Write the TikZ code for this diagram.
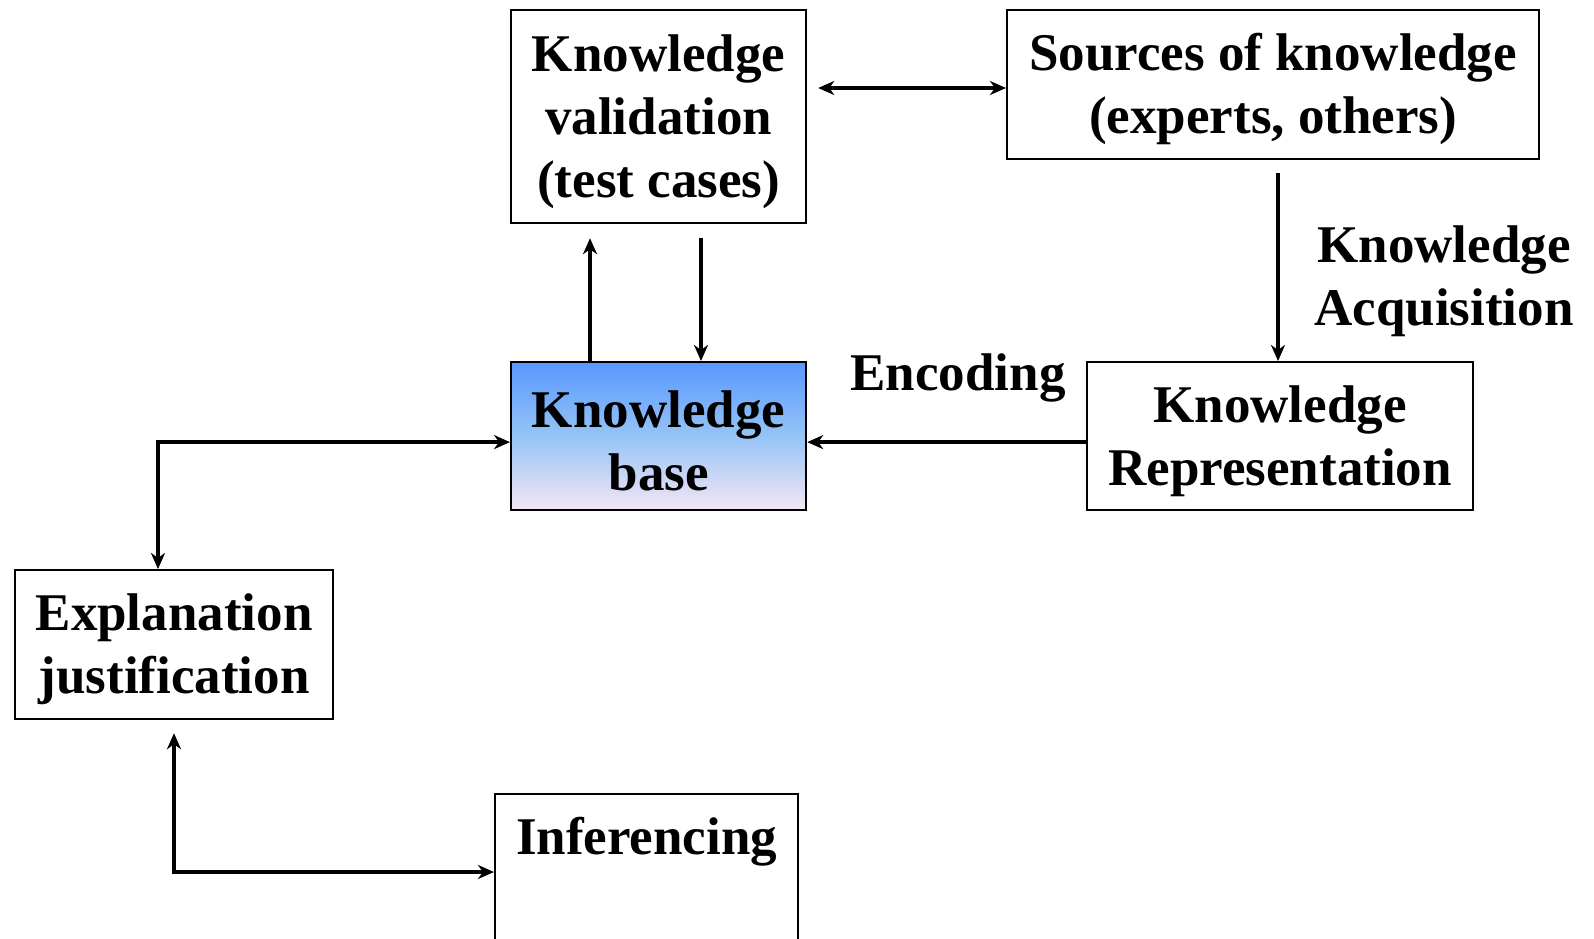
\documentclass[tikz,border=0pt]{standalone}
\usepackage{fontspec}
\setmainfont{Liberation Serif}
\usetikzlibrary{arrows.meta}
\definecolor{kbtop}{RGB}{88,152,255}
\definecolor{kbmid}{RGB}{150,196,246}
\definecolor{kbbot}{RGB}{244,230,244}
\newcommand\tup{\rule{0pt}{47pt}}
\tikzset{
  box/.style={draw, line width=2.2pt, rectangle, anchor=north west, align=center, inner sep=0pt,
    font=\fontsize{53}{63}\selectfont\bfseries},
  lbl/.style={align=center, inner sep=0pt, font=\fontsize{53}{63}\selectfont\bfseries},
  arr/.style={line width=3.8pt, {Stealth[length=16pt,width=14pt,inset=5pt]}-{Stealth[length=16pt,width=14pt,inset=5pt]}},
  arrto/.style={line width=3.8pt, -{Stealth[length=16pt,width=14pt,inset=5pt]}}
}
\begin{document}
\begin{tikzpicture}[x=1pt,y=-1pt]
\clip (0,0) rectangle (1594,938);
\fill[white] (0,0) rectangle (1594,938);
\node[box, minimum width=295pt, minimum height=213pt] (kv) at (510,9) {\tup Knowledge\\validation\\(test cases)};
\node[box, minimum width=532pt, minimum height=149pt] (src) at (1006,9) {\tup Sources of knowledge\\(experts, others)};
\node[box, minimum width=295pt, minimum height=148pt, top color=kbtop, bottom color=kbbot, middle color=kbmid] (kb) at (510,361) {\tup Knowledge\\base};
\node[box, minimum width=386pt, minimum height=148pt] (kr) at (1086,361) {\tup Knowledge\\Representation};
\node[box, minimum width=318pt, minimum height=149pt] (ex) at (14,569) {\tup Explanation\\justification};
\node[box, minimum width=303pt, minimum height=200pt] (inf) at (494,793) {};
\node[lbl, anchor=north] (inft) at ([yshift=-14pt]inf.north) {\tup Inferencing};
\node[lbl] (acq) at (1444,276) {\tup Knowledge\\Acquisition};
\node[lbl] (enc) at (958,373) {\tup Encoding};

\draw[arr] ([shift={(11pt,-79pt)}]kv.north east) -- ([yshift=-79pt]src.north west);
\draw[arrto] ([xshift=80pt]kb.north west) -- ([shift={(80pt,-14pt)}]kv.south west);
\draw[arrto] ([shift={(191pt,-14pt)}]kv.south west) -- ([xshift=191pt]kb.north west);
\draw[arrto] ([shift={(272pt,-13pt)}]src.south west) -- ([xshift=192pt]kr.north west);
\draw[arrto] ([yshift=-6pt]kr.west) -- ([yshift=-6pt]kb.east);
\draw[arr] ([yshift=-6pt]kb.west) -| ([xshift=144pt]ex.north west);
\draw[arr] ([shift={(160pt,-13pt)}]ex.south west) |- ([yshift=-79pt]inf.north west);
\end{tikzpicture}
\end{document}
